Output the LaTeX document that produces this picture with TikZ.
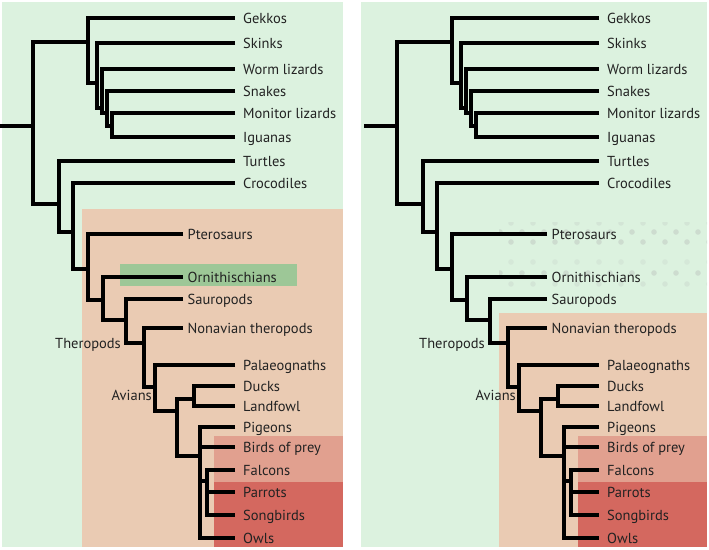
\documentclass[tikz,border=0pt]{standalone}
\usepackage{fontspec}
\setmainfont{PT Sans}
\definecolor{bggreen}{HTML}{DCF2DF}
\definecolor{peach}{HTML}{EACBB3}
\definecolor{hlgreen}{HTML}{9DC797}
\definecolor{bop}{HTML}{E1A08F}
\definecolor{darkred}{HTML}{D4685F}
\definecolor{dotc}{HTML}{CCDACE}
\definecolor{txt}{HTML}{222222}
\tikzset{
  br/.style={line width=3.2pt, draw=black, line join=miter},
  leaf/.style={anchor=west, inner xsep=8pt, inner ysep=0pt, text height=13.5pt, text depth=2.5pt,
    font=\fontsize{14.5}{16}\selectfont, text=txt},
  dleaf/.style={leaf, inner xsep=4.5pt},
  grp/.style={anchor=east, inner sep=0pt, text height=13.5pt, text depth=2.5pt,
    font=\fontsize{14.5}{16}\selectfont, text=txt},
}
\newcommand\phylo[1]{%
  \node[leaf] (#1gek) at (235,18) {Gekkos};
  \node[leaf] (#1ski) at (235,43) {Skinks};
  \node[leaf] (#1wor) at (235,69) {Worm lizards};
  \node[leaf] (#1sna) at (235,91) {Snakes};
  \node[leaf] (#1mon) at (235,113) {Monitor lizards};
  \node[leaf] (#1igu) at (235,137) {Iguanas};
  \node[leaf] (#1tur) at (235,161) {Turtles};
  \node[leaf] (#1cro) at (235,183) {Crocodiles};
  \node[dleaf] (#1pte) at (183,234) {Pterosaurs};
  \node[dleaf] (#1orn) at (183,277) {Ornithischians};
  \node[dleaf] (#1sau) at (183,299) {Sauropods};
  \node[dleaf] (#1non) at (183,328) {Nonavian theropods};
  \node[leaf] (#1pal) at (235,365) {Palaeognaths};
  \node[leaf] (#1duc) at (235,386) {Ducks};
  \node[leaf] (#1lan) at (235,406) {Landfowl};
  \node[leaf] (#1pig) at (235,427) {Pigeons};
  \node[leaf] (#1bir) at (235,447) {Birds of prey};
  \node[leaf] (#1fal) at (235,470) {Falcons};
  \node[leaf] (#1par) at (235,492) {Parrots};
  \node[leaf] (#1son) at (235,515) {Songbirds};
  \node[leaf] (#1owl) at (235,538) {Owls};
  \node[grp] (#1thp) at (121,343) {Theropods};
  \node[grp] (#1avi) at (152,395) {Avians};
  \coordinate (#1root) at (0,126);
  \draw[br] (#1root) -- (33,126);
  \draw[br] (88,42) -- (33,42) -- (33,204) -- (59,204);
  \draw[br] (#1gek.west) -- (88,18) -- (88,83) -- (97,83);
  \draw[br] (#1ski.west) -- (97,43) -- (97,108) -- (102,108);
  \draw[br] (#1wor.west) -- (102,69) -- (102,113) -- (107,113);
  \draw[br] (#1sna.west) -- (107,91) -- (107,126) -- (112,126);
  \draw[br] (#1mon.west) -- (112,113) -- (112,137) -- (#1igu.west);
  \draw[br] (#1tur.west) -- (59,161) -- (59,232) -- (73,232);
  \draw[br] (#1cro.west) -- (73,183) -- (73,269) -- (88,269);
  \draw[br] (#1pte.west) -- (88,234) -- (88,300) -- (103,300);
  \draw[br] (#1orn.west) -- (103,277) -- (103,320) -- (126,320);
  \draw[br] (#1sau.west) -- (126,299) -- (126,343) -- (144,343);
  \draw[br] (#1non.west) -- (144,328) -- (144,387) -- (155,387);
  \draw[br] (#1pal.west) -- (155,365) -- (155,411) -- (177,411);
  \draw[br] (194,399) -- (177,399) -- (177,456) -- (200,456);
  \draw[br] (#1duc.west) -- (194,386) -- (194,406) -- (#1lan.west);
  \draw[br] (#1pig.west) -- (200,427) -- (200,538) -- (#1owl.west);
  \draw[br] (200,447) -- (#1bir.west);
  \draw[br] (200,481) -- (207,481);
  \draw[br] (#1fal.west) -- (207,470) -- (207,515) -- (#1son.west);
  \draw[br] (207,492) -- (#1par.west);
}
\begin{document}
\begin{tikzpicture}[x=1pt,y=-1pt]
\useasboundingbox (0,0) rectangle (709,549);
% left panel backgrounds
\fill[bggreen] (2,2) rectangle (343,547);
\fill[peach] (82,209) rectangle (343,547);
\fill[hlgreen] (120,264) rectangle (297,286);
\fill[bop] (214,436) rectangle (343,547);
\fill[darkred] (214,482) rectangle (343,547);
% right panel backgrounds
\fill[bggreen] (361,2) rectangle (707,547);
\begin{scope}
  \clip (499,222) rectangle (707,288);
  \foreach \yy/\op/\off in {223/0.5/11, 232/0.9/0, 242/0.9/11, 262/0.4/11, 273/0.9/0, 284/0.5/11}
    \foreach \k in {0,...,9}
      \fill[dotc, opacity=\op] ({500+\off+22*\k},\yy) circle (2.8);
\end{scope}
\fill[peach] (499,313) rectangle (707,547);
\fill[bop] (578,436) rectangle (707,547);
\fill[darkred] (578,482) rectangle (707,547);
% trees
\phylo{L}
\begin{scope}[xshift=364pt]
\phylo{R}
\end{scope}
\end{tikzpicture}
\end{document}
